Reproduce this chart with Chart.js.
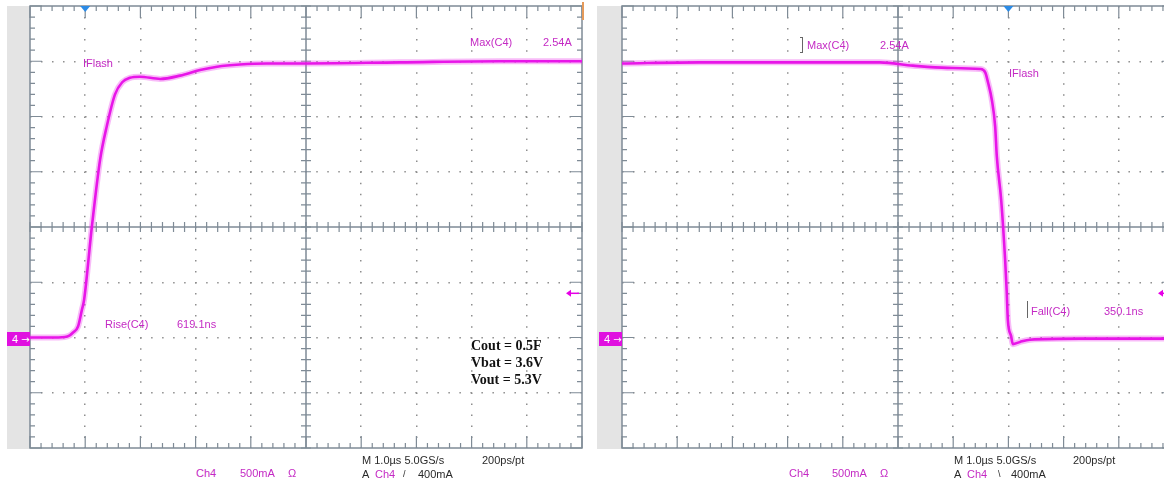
<!DOCTYPE html>
<html>
<head>
<meta charset="utf-8">
<script src="https://cdn.jsdelivr.net/npm/chart.js@4.4.1/dist/chart.umd.min.js"></script>
<style>
body{margin:0;width:1164px;height:482px;overflow:hidden;background:#fff;position:relative;font-family:"Liberation Sans",Arial,sans-serif;}
canvas{position:absolute;top:0}
.strip{position:absolute;top:6px;height:443px;background:#e4e4e4}
.gnd{position:absolute;height:14px;background:#e010e0;color:#fff;font-size:11px;line-height:14px;padding-left:5px;box-sizing:border-box;white-space:nowrap;overflow:hidden}
.gnd span{font:10px "DejaVu Sans",sans-serif;margin-left:3px}
.t{position:absolute;font-size:11px;line-height:12px;white-space:nowrap;color:#c42ac4}
.k{color:#2a2a2a}
.note{position:absolute;font:bold 14px "Liberation Serif","Times New Roman",serif;line-height:17px;color:#111;white-space:nowrap}
.bar{position:absolute;border-right:1px solid #666}
</style>
</head>
<body>
<div class="strip" style="left:7px;width:23px"></div>
<div class="strip" style="left:597px;width:25px"></div>

<canvas id="left" width="572" height="460" style="left:20px;width:572px;height:460px"></canvas>
<canvas id="right" width="572" height="460" style="left:612px;width:572px;height:460px"></canvas>

<div class="gnd" style="left:7px;top:332px;width:23px">4<span>&rarr;</span></div>
<div class="gnd" style="left:599px;top:332px;width:23px">4<span>&rarr;</span></div>

<!-- left panel labels -->
<div class="t" style="left:83px;top:57px">IFlash</div>
<div class="t" style="left:470px;top:36px">Max(C4)</div>
<div class="t" style="left:543px;top:36px">2.54A</div>
<div class="t" style="left:105px;top:318px">Rise(C4)</div>
<div class="t" style="left:177px;top:318px">619.1ns</div>
<div class="note" style="left:471px;top:337px">Cout = 0.5F<br>Vbat = 3.6V<br>Vout = 5.3V</div>
<div class="t" style="left:196px;top:467px">Ch4</div>
<div class="t" style="left:240px;top:467px">500mA</div>
<div class="t" style="left:288px;top:467px">&Omega;</div>
<div class="t k" style="left:362px;top:454px">M 1.0&micro;s 5.0GS/s</div>
<div class="t k" style="left:482px;top:454px">200ps/pt</div>
<div class="t k" style="left:362px;top:468px">A</div>
<div class="t" style="left:375px;top:468px">Ch4</div>
<div class="t k" style="left:403px;top:468px;font-size:9px">/</div>
<div class="t k" style="left:418px;top:468px">400mA</div>

<!-- right panel labels -->
<div class="bar" style="left:800px;top:37px;height:14px;width:2px;border-top:1px solid #666;border-bottom:1px solid #666"></div>
<div class="t" style="left:807px;top:39px">Max(C4)</div>
<div class="t" style="left:880px;top:39px">2.54A</div>
<div class="t" style="left:1009px;top:67px">IFlash</div>
<div class="bar" style="left:1027px;top:301px;height:17px;width:0"></div>
<div class="t" style="left:1031px;top:305px">Fall(C4)</div>
<div class="t" style="left:1104px;top:305px">350.1ns</div>
<div class="t" style="left:789px;top:467px">Ch4</div>
<div class="t" style="left:832px;top:467px">500mA</div>
<div class="t" style="left:880px;top:467px">&Omega;</div>
<div class="t k" style="left:954px;top:454px">M 1.0&micro;s 5.0GS/s</div>
<div class="t k" style="left:1073px;top:454px">200ps/pt</div>
<div class="t k" style="left:954px;top:468px">A</div>
<div class="t" style="left:967px;top:468px">Ch4</div>
<div class="t k" style="left:998px;top:468px;font-size:9px">\</div>
<div class="t k" style="left:1011px;top:468px">400mA</div>

<script>
// time in divisions (1.0us/div), current in A (500mA/div)
var riseTime = [0, 0.36, 0.63, 0.72, 0.78, 0.87, 0.94, 0.98, 1.12, 1.27, 1.39, 1.54, 1.67, 1.81, 1.99, 2.36, 2.72, 3.08, 3.39, 3.80, 4.29, 4.89, 6.70, 8.50, 10];
var riseCurrent = [0, 0, 0.005, 0.02, 0.045, 0.10, 0.25, 0.34, 1.0, 1.61, 1.91, 2.20, 2.31, 2.35, 2.36, 2.34, 2.37, 2.42, 2.45, 2.47, 2.48, 2.48, 2.49, 2.50, 2.50];

var fallTime = [0, 1.41, 3.22, 4.67, 5.27, 5.89, 6.49, 6.58, 6.63, 6.70, 6.76, 6.79, 6.87, 6.94, 6.97, 6.99, 7.05, 7.08, 7.21, 7.39, 8.30, 10];
var fallCurrent = [2.48, 2.49, 2.49, 2.49, 2.46, 2.44, 2.43, 2.40, 2.31, 2.15, 1.91, 1.64, 1.24, 0.71, 0.41, 0.16, 0.01, -0.06, -0.04, -0.02, -0.01, -0.01];

var xTicks = [0, 10, 1];      // min, max, step (divisions)
var yTicks = [-1, 3, 0.5];    // min, max, step (A)

var traceColor = "#e600e6";

//-----------------------------------------------------------------------------------------

const scopeFrame = {
    id: "scopeFrame",
    beforeDatasetsDraw(chart) {
        const {ctx, chartArea: a, scales: {x, y}} = chart;
        const cx = x.getPixelForValue(5);
        const cy = y.getPixelForValue(1);
        ctx.save();
        ctx.strokeStyle = "#7f8b96";
        ctx.lineWidth = 1.5;
        ctx.strokeRect(a.left, a.top, a.right - a.left, a.bottom - a.top);
        ctx.beginPath();
        ctx.moveTo(cx, a.top); ctx.lineTo(cx, a.bottom);
        ctx.moveTo(a.left, cy); ctx.lineTo(a.right, cy);
        ctx.stroke();

        ctx.lineWidth = 1.2;
        ctx.beginPath();
        for (let i = 0; i <= 50; i++) {
            const px = x.getPixelForValue(i / 5);
            const len = i % 5 === 0 ? 12 : 5;
            ctx.moveTo(px, a.top); ctx.lineTo(px, a.top + len);
            ctx.moveTo(px, a.bottom); ctx.lineTo(px, a.bottom - len);
            ctx.moveTo(px, cy - 5); ctx.lineTo(px, cy + 5);
        }
        for (let j = 0; j <= 40; j++) {
            const py = y.getPixelForValue(-1 + j * 0.1);
            const len = j % 5 === 0 ? 12 : 5;
            ctx.moveTo(a.left, py); ctx.lineTo(a.left + len, py);
            ctx.moveTo(a.right, py); ctx.lineTo(a.right - len, py);
            ctx.moveTo(cx - 5, py); ctx.lineTo(cx + 5, py);
        }
        ctx.stroke();
        ctx.restore();
    },
    afterDatasetsDraw(chart, args, opts) {
        const {ctx, chartArea: a, scales: {x, y}} = chart;
        ctx.save();
        // trigger position
        const tx = x.getPixelForValue(opts.trigT);
        ctx.fillStyle = "#2b8be6";
        ctx.beginPath();
        ctx.moveTo(tx - 5, a.top); ctx.lineTo(tx + 5, a.top); ctx.lineTo(tx, a.top + 6);
        ctx.closePath();
        ctx.fill();
        // trigger level
        const ty = y.getPixelForValue(opts.trigI);
        ctx.strokeStyle = traceColor;
        ctx.fillStyle = traceColor;
        ctx.lineWidth = 1.5;
        ctx.beginPath();
        ctx.moveTo(a.right - 3, ty); ctx.lineTo(a.right - 12, ty);
        ctx.stroke();
        ctx.beginPath();
        ctx.moveTo(a.right - 16, ty); ctx.lineTo(a.right - 11, ty - 3.5); ctx.lineTo(a.right - 11, ty + 3.5);
        ctx.closePath();
        ctx.fill();
        if (opts.mark) {
            ctx.strokeStyle = "#e59a5a";
            ctx.lineWidth = 2;
            ctx.beginPath();
            ctx.moveTo(a.right + 1, a.top - 4); ctx.lineTo(a.right + 1, a.top + 14);
            ctx.stroke();
        }
        ctx.restore();
    }
};

function makeScope(id, times, currents, trigT, mark) {
    const pts = times.map((t, i) => ({x: t, y: currents[i]}));
    const ctx = document.getElementById(id).getContext("2d");
    return new Chart(ctx, {
        type: "line",
        data: {
            datasets: [{
                data: pts,
                borderColor: "rgba(235,60,235,0.35)",
                borderWidth: 6,
                pointRadius: 0,
                cubicInterpolationMode: "monotone"
            }, {
                data: pts,
                borderColor: traceColor,
                borderWidth: 2.6,
                pointRadius: 0,
                cubicInterpolationMode: "monotone"
            }]
        },
        options: {
            responsive: false,
            animation: false,
            layout: {padding: {left: 10, right: 10, top: 6, bottom: 12}},
            plugins: {
                legend: {display: false},
                tooltip: {enabled: false},
                scopeFrame: {trigT: trigT, trigI: 0.4, mark: mark}
            },
            scales: {
                x: {
                    type: "linear", min: xTicks[0], max: xTicks[1],
                    ticks: {stepSize: xTicks[2], display: false},
                    grid: {
                        drawTicks: false, lineWidth: 1.5,
                        color: c => (c.tick && (c.tick.value === 0 || c.tick.value === 5 || c.tick.value === 10)) ? "rgba(0,0,0,0)" : "#8e8e8e"
                    },
                    border: {display: false, dash: [1.5, 9.54]}
                },
                y: {
                    type: "linear", min: yTicks[0], max: yTicks[1],
                    ticks: {stepSize: yTicks[2], display: false},
                    grid: {
                        drawTicks: false, lineWidth: 1.5,
                        color: c => (c.tick && (c.tick.value === -1 || c.tick.value === 1 || c.tick.value === 3)) ? "rgba(0,0,0,0)" : "#8e8e8e"
                    },
                    border: {display: false, dash: [1.5, 9.51]}
                }
            }
        },
        plugins: [scopeFrame]
    });
}

makeScope("left", riseTime, riseCurrent, 1, true);
makeScope("right", fallTime, fallCurrent, 7, false);
</script>
</body>
</html>
